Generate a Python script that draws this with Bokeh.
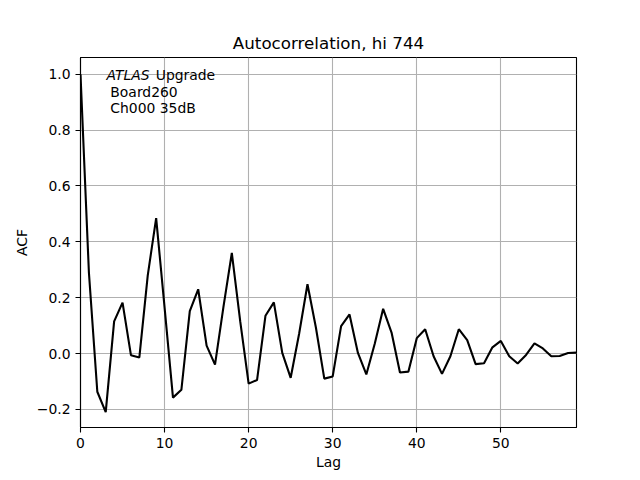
from bokeh.plotting import figure
from bokeh.models import Range1d, FixedTicker, CustomJSTickFormatter, Label
from bokeh.embed import file_html
from bokeh.resources import INLINE

lags = list(range(60))
acf = [1.0, 0.29, -0.137, -0.21, 0.115, 0.182, -0.006, -0.014, 0.28, 0.485,
       0.165, -0.158, -0.13, 0.152, 0.23, 0.028, -0.04, 0.166, 0.36, 0.115,
       -0.108, -0.095, 0.135, 0.183, 0.002, -0.087, 0.07, 0.248, 0.093, -0.09,
       -0.082, 0.098, 0.14, 0.002, -0.075, 0.035, 0.16, 0.075, -0.068, -0.065,
       0.055, 0.087, -0.01, -0.073, -0.01, 0.087, 0.048, -0.038, -0.035, 0.022,
       0.045, -0.01, -0.036, -0.005, 0.036, 0.018, -0.01, -0.009, 0.002, 0.003]
x_ticks = [0, 10, 20, 30, 40, 50]
y_ticks = [-0.2, 0.0, 0.2, 0.4, 0.6, 0.8, 1.0]
title_text = "Autocorrelation, hi 744"
x_label = "Lag"
y_label = "ACF"
note_italic = "ATLAS"
note_rest = "Upgrade"
note_lines = ["Board260", "Ch000 35dB"]

FONT = "DejaVu Sans"

p = figure(width=626, height=466, output_backend="svg", toolbar_location=None,
           x_range=Range1d(0, 59), y_range=Range1d(-0.265, 1.06),
           frame_width=496, frame_height=370,
           min_border_left=80, min_border_right=50, min_border_top=57,
           min_border_bottom=39)
p.background_fill_color = "white"
p.border_fill_color = "white"
p.outline_line_color = "black"
p.outline_line_width = 1.1

p.title.text = title_text
p.title.align = "center"
p.title.text_font = FONT
p.title.text_font_size = "16.7px"
p.title.text_font_style = "normal"
p.title.text_color = "black"
p.title.standoff = 9

p.line(lags, acf, line_color="black", line_width=2.1)

for ax in (p.xaxis[0], p.yaxis[0]):
    ax.major_label_text_font = FONT
    ax.major_label_text_font_size = "13.9px"
    ax.major_label_text_color = "black"
    ax.axis_label_text_font = FONT
    ax.axis_label_text_font_size = "13.9px"
    ax.axis_label_text_font_style = "normal"
    ax.axis_label_text_color = "black"
    ax.axis_line_color = "black"
    ax.axis_line_width = 1.1
    ax.major_tick_line_color = "black"
    ax.major_tick_line_width = 1.1
    ax.major_tick_out = 5
    ax.major_tick_in = 0
    ax.minor_tick_line_color = None
    ax.major_label_standoff = 5

p.xaxis[0].ticker = FixedTicker(ticks=x_ticks)
p.yaxis[0].ticker = FixedTicker(ticks=y_ticks)
p.xaxis[0].axis_label = x_label
p.yaxis[0].axis_label = y_label
p.xaxis[0].axis_label_standoff = 3
p.yaxis[0].axis_label_standoff = 4
p.yaxis[0].formatter = CustomJSTickFormatter(
    code="return tick.toFixed(1).replace('-', '\u2212');")
p.xaxis[0].formatter = CustomJSTickFormatter(code="return tick.toFixed(0);")

p.xgrid.grid_line_color = "#b0b0b0"
p.ygrid.grid_line_color = "#b0b0b0"
p.xgrid.grid_line_width = 1.1
p.ygrid.grid_line_width = 1.1

common = dict(text_font=FONT, text_font_size="13.9px", text_color="black",
              text_baseline="alphabetic")
p.add_layout(Label(x=3.1, y=0.997, text=note_italic, text_font_style="italic", **common))
p.add_layout(Label(x=8.95, y=0.997, text=note_rest, **common))
p.add_layout(Label(x=3.55, y=0.935, text=note_lines[0], **common))
p.add_layout(Label(x=3.55, y=0.878, text=note_lines[1], **common))

open("out.html", "w").write(file_html(p, INLINE))
